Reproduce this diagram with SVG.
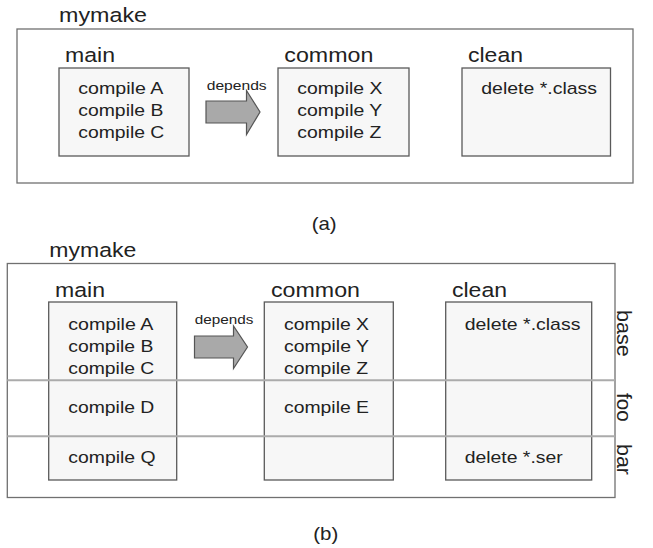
<svg xmlns="http://www.w3.org/2000/svg" width="653" height="548" viewBox="0 0 653 548">
<style>
text { font-family: "Liberation Sans", Arial, sans-serif; fill: #222222; }
.lbl { font-size: 20.5px; }
.cmd { font-size: 17px; }
.dep { font-size: 13px; }
.cap { font-size: 19px; }
.side { font-size: 19.5px; }
.outer { fill: #ffffff; stroke: #707070; stroke-width: 1.3; }
.box { fill: #f7f7f7; stroke: #5a5a5a; stroke-width: 1.3; }
.arrow { fill: #a9a9a9; stroke: #555555; stroke-width: 1.2; stroke-linejoin: miter; }
.div { stroke: #ababab; stroke-width: 2; fill: none; }
</style>
<rect width="653" height="548" fill="#ffffff"/>

<!-- (a) -->
<g id="a-mymake">
  <text class="lbl" x="59" y="22" textLength="88" lengthAdjust="spacingAndGlyphs">mymake</text>
  <rect class="outer" x="17" y="29" width="616" height="154"/>
</g>
<g id="a-main">
  <text class="lbl" x="65" y="62" textLength="50" lengthAdjust="spacingAndGlyphs">main</text>
  <rect class="box" x="59" y="68" width="130" height="88"/>
  <text class="cmd" x="78.3" y="94.3" textLength="85" lengthAdjust="spacingAndGlyphs">compile A</text>
  <text class="cmd" x="78.3" y="116" textLength="85" lengthAdjust="spacingAndGlyphs">compile B</text>
  <text class="cmd" x="78.3" y="137.7" textLength="86" lengthAdjust="spacingAndGlyphs">compile C</text>
</g>
<g id="a-common">
  <text class="lbl" x="284.3" y="62" textLength="89" lengthAdjust="spacingAndGlyphs">common</text>
  <rect class="box" x="278" y="68" width="131" height="88"/>
  <text class="cmd" x="297.3" y="94.3" textLength="85" lengthAdjust="spacingAndGlyphs">compile X</text>
  <text class="cmd" x="297.3" y="116" textLength="85" lengthAdjust="spacingAndGlyphs">compile Y</text>
  <text class="cmd" x="297.3" y="137.7" textLength="84" lengthAdjust="spacingAndGlyphs">compile Z</text>
</g>
<g id="a-clean">
  <text class="lbl" x="468" y="62" textLength="55" lengthAdjust="spacingAndGlyphs">clean</text>
  <rect class="box" x="462" y="68" width="148.5" height="88"/>
  <text class="cmd" x="481.3" y="94.3" textLength="115.7" lengthAdjust="spacingAndGlyphs">delete *.class</text>
</g>
<text class="cap" x="311.7" y="229.5" textLength="25" lengthAdjust="spacingAndGlyphs">(a)</text>

<!-- (b) -->
<g id="b-mymake">
  <text class="lbl" x="49.3" y="256.7" textLength="87" lengthAdjust="spacingAndGlyphs">mymake</text>
  <rect class="outer" x="7.3" y="263.5" width="607.7" height="234"/>
</g>
<g id="b-main">
  <text class="lbl" x="55" y="297.3" textLength="50" lengthAdjust="spacingAndGlyphs">main</text>
  <rect class="box" x="48.7" y="302" width="128" height="178"/>
  <text class="cmd" x="68.3" y="330" textLength="85" lengthAdjust="spacingAndGlyphs">compile A</text>
  <text class="cmd" x="68.3" y="352" textLength="85" lengthAdjust="spacingAndGlyphs">compile B</text>
  <text class="cmd" x="68.3" y="374.3" textLength="86" lengthAdjust="spacingAndGlyphs">compile C</text>
  <text class="cmd" x="68.3" y="413.3" textLength="86" lengthAdjust="spacingAndGlyphs">compile D</text>
  <text class="cmd" x="68.3" y="462.7" textLength="87.3" lengthAdjust="spacingAndGlyphs">compile Q</text>
</g>
<g id="b-common">
  <text class="lbl" x="271" y="297.3" textLength="89" lengthAdjust="spacingAndGlyphs">common</text>
  <rect class="box" x="264.3" y="302" width="129" height="178"/>
  <text class="cmd" x="284" y="330" textLength="85" lengthAdjust="spacingAndGlyphs">compile X</text>
  <text class="cmd" x="284" y="352" textLength="85" lengthAdjust="spacingAndGlyphs">compile Y</text>
  <text class="cmd" x="284" y="374.3" textLength="84" lengthAdjust="spacingAndGlyphs">compile Z</text>
  <text class="cmd" x="284" y="413.3" textLength="85" lengthAdjust="spacingAndGlyphs">compile E</text>
</g>
<g id="b-clean">
  <text class="lbl" x="452" y="297.3" textLength="55" lengthAdjust="spacingAndGlyphs">clean</text>
  <rect class="box" x="445.7" y="302" width="146" height="178"/>
  <text class="cmd" x="464.7" y="330" textLength="115.7" lengthAdjust="spacingAndGlyphs">delete *.class</text>
  <text class="cmd" x="464.7" y="462.7" textLength="98" lengthAdjust="spacingAndGlyphs">delete *.ser</text>
</g>
<g id="b-layers">
  <line class="div" x1="7.3" y1="380.3" x2="615" y2="380.3"/>
  <line class="div" x1="7.3" y1="436.3" x2="615" y2="436.3"/>
  <text class="side" transform="translate(617,310) rotate(90)" textLength="46.7" lengthAdjust="spacingAndGlyphs">base</text>
  <text class="side" transform="translate(617,393) rotate(90)" textLength="28.7" lengthAdjust="spacingAndGlyphs">foo</text>
  <text class="side" transform="translate(617,444) rotate(90)" textLength="31" lengthAdjust="spacingAndGlyphs">bar</text>
</g>
<text class="cap" x="313.3" y="539.5" textLength="25" lengthAdjust="spacingAndGlyphs">(b)</text>

<!-- connectors -->
<g id="connectors">
  <polygon class="arrow" points="206,101 246.5,101 246.5,90.5 260,112 246.5,134.5 246.5,123 206,123"/>
  <text class="dep" x="206.7" y="89.5" textLength="60" lengthAdjust="spacingAndGlyphs">depends</text>
  <polygon class="arrow" points="194.5,336 233.5,336 233.5,326 247.5,347 233.5,368.5 233.5,358 194.5,358"/>
  <text class="dep" x="194.7" y="324" textLength="58.6" lengthAdjust="spacingAndGlyphs">depends</text>
</g>
</svg>
